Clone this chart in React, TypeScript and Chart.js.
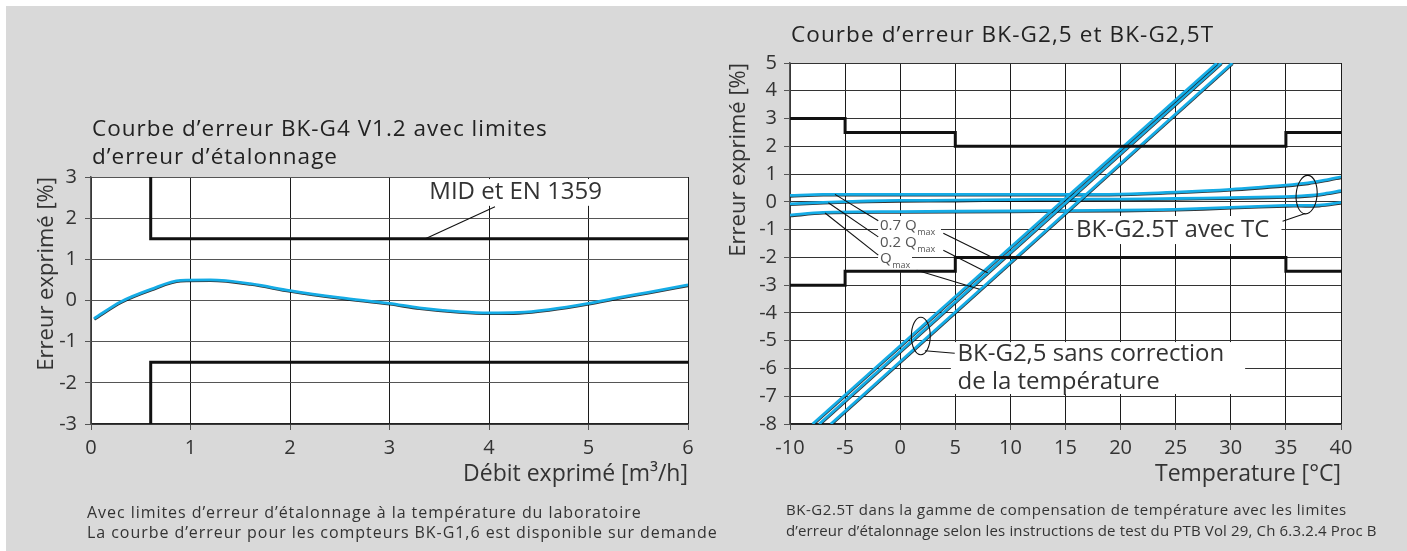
import React, { useEffect, useRef } from "react";
import { Chart, registerables } from "chart.js";

Chart.register(...registerables);

const FONT = "'Open Sans', 'DejaVu Sans', sans-serif";
const CYAN = "#15ace6";
const INK = "#111111";
const TEXT = "#333333";

// ---------- Left chart: BK-G4 V1.2 ----------
const g4FlowTicks = [0, 1, 2, 3, 4, 5, 6];
const g4ErrorTicks = [-3, -2, -1, 0, 1, 2, 3];
const g4Flow = [0.03, 0.3, 0.6, 0.9, 1.2, 1.6, 2.0, 2.5, 3.0, 3.3, 3.7, 4.0, 4.3, 4.6, 5.0, 5.3, 5.6, 6.0];
const g4Error = [-0.44, -0.03, 0.27, 0.49, 0.5, 0.41, 0.24, 0.07, -0.07, -0.18, -0.27, -0.3, -0.29, -0.22, -0.07, 0.07, 0.2, 0.38];
const g4LimitFlow = [0.6, 0.6, 6];
const g4UpperLimit = [3, 1.5, 1.5];
const g4LowerLimit = [-3, -1.5, -1.5];

// ---------- Right chart: BK-G2,5 / BK-G2,5T ----------
const tempTicks = [-10, -5, 0, 5, 10, 15, 20, 25, 30, 35, 40];
const tempErrorTicks = [-8, -7, -6, -5, -4, -3, -2, -1, 0, 1, 2, 3, 4, 5];
const limitTemp = [-10, -5, 5, 35, 40];
const upperLimit = [3, 2.5, 2, 2.5, 2.5];
const lowerLimit = [-3, -2.5, -2, -2.5, -2.5];
const uncorrError = [-8, 5];
const uncorrTemp07 = [-7.95, 28.74];
const uncorrTemp02 = [-7.35, 29.14];
const uncorrTempQmax = [-6.3, 30.14];
const tcTemp07 = [-10, -7, -5, 0, 5, 10, 15, 20, 25, 30, 35, 37, 38.5, 40];
const tcError07 = [0.23, 0.27, 0.27, 0.27, 0.27, 0.27, 0.27, 0.28, 0.35, 0.45, 0.6, 0.68, 0.78, 0.9];
const tcTemp02 = [-10, -7, -3, 0, 5, 10, 15, 20, 25, 30, 35, 37, 38.5, 40];
const tcError02 = [-0.07, -0.02, 0.03, 0.05, 0.06, 0.08, 0.09, 0.1, 0.12, 0.15, 0.19, 0.23, 0.3, 0.4];
const tcTempQmax = [-10, -7, 0, 10, 20, 25, 30, 35, 38, 40];
const tcErrorQmax = [-0.48, -0.38, -0.35, -0.33, -0.3, -0.27, -0.2, -0.13, -0.12, -0.02];

const pts = (xs: number[], ys: number[]) => xs.map((x, i) => ({ x, y: ys[i] }));

// ---------- annotations (data units) ----------
const leftNotes = {
  boxes: [{ x0: 3.35, x1: 5.23, y0: 2.95, y1: 2.3 }],
  texts: [{ x: 3.4, y: 2.46, text: "MID et EN 1359", size: 24 }],
  lines: [{ x0: 3.36, y0: 1.5, x1: 4.06, y1: 2.28 }],
  ellipses: [] as any[],
};

const rightNotes = {
  boxes: [
    { x0: -2.01, x1: 3.7, y0: -0.51, y1: -1.3 },
    { x0: -2.01, x1: 3.7, y0: -1.12, y1: -1.88 },
    { x0: -2.01, x1: 1.07, y0: -1.74, y1: -2.53 },
    { x0: 15.7, x1: 34.6, y0: -0.51, y1: -1.52 },
    { x0: 4.6, x1: 31.3, y0: -5.05, y1: -6.92 },
  ],
  texts: [
    { x: -1.83, y: -1.016, text: "0.7 Q", sub: "max", size: 15, color: "#555" },
    { x: -1.83, y: -1.62, text: "0.2 Q", sub: "max", size: 15, color: "#555" },
    { x: -1.83, y: -2.21, text: "Q", sub: "max", size: 15, color: "#555" },
    { x: 15.95, y: -1.257, text: "BK-G2.5T avec TC", size: 24 },
    { x: 5.2, y: -5.74, text: "BK-G2,5 sans correction", size: 24 },
    { x: 5.2, y: -6.74, text: "de la température", size: 24 },
  ],
  lines: [
    { x0: -5.92, y0: 0.27, x1: -1.99, y1: -0.68 },
    { x0: -6.52, y0: -0.03, x1: -1.99, y1: -1.26 },
    { x0: -6.82, y0: -0.4, x1: -1.99, y1: -1.92 },
    { x0: 3.91, y0: -1.13, x1: 8.7, y1: -2.07 },
    { x0: 3.91, y0: -1.74, x1: 7.94, y1: -2.55 },
    { x0: 1.5, y0: -2.46, x1: 7.2, y1: -3.15 },
    { x0: 34.7, y0: -0.7, x1: 36.75, y1: -0.42 },
    { x0: 2.24, y0: -5.36, x1: 4.95, y1: -5.45 },
  ],
  ellipses: [
    { x: 36.88, y: 0.26, rx: 0.95, ry: 0.695, rot: 0.08 },
    { x: 1.87, y: -4.83, rx: 0.857, ry: 0.675, rot: 0 },
  ],
};

const plotBg = {
  id: "plotBg",
  beforeDraw(chart: any) {
    const { ctx, chartArea: a } = chart;
    ctx.save();
    ctx.fillStyle = "#ffffff";
    ctx.fillRect(a.left, a.top, a.right - a.left, a.bottom - a.top);
    ctx.restore();
  },
};

const outline = {
  id: "outline",
  beforeDatasetDraw(chart: any, args: any) {
    if (chart.data.datasets[args.index].outline) {
      const c = chart.ctx;
      c.save();
      c.shadowColor = "rgba(0,0,0,0.8)";
      c.shadowOffsetX = 0.3;
      c.shadowOffsetY = 0.8;
      c.shadowBlur = 0;
    }
  },
  afterDatasetDraw(chart: any, args: any) {
    if (chart.data.datasets[args.index].outline) chart.ctx.restore();
  },
};

function makeNotes(notes: any) {
  return {
    id: "notes",
    beforeDatasetsDraw(chart: any) {
      const { ctx } = chart;
      const X = (v: number) => chart.scales.x.getPixelForValue(v);
      const Y = (v: number) => chart.scales.y.getPixelForValue(v);
      ctx.save();
      ctx.fillStyle = "#ffffff";
      notes.boxes.forEach((b: any) => {
        const x0 = X(b.x0), x1 = X(b.x1), y0 = Y(b.y0), y1 = Y(b.y1);
        ctx.fillRect(Math.min(x0, x1), Math.min(y0, y1), Math.abs(x1 - x0), Math.abs(y1 - y0));
      });
      ctx.textBaseline = "alphabetic";
      ctx.textAlign = "left";
      notes.texts.forEach((t: any) => {
        ctx.fillStyle = t.color || TEXT;
        ctx.font = `${t.size}px ${FONT}`;
        const px = X(t.x), py = Y(t.y);
        ctx.fillText(t.text, px, py);
        if (t.sub) {
          const w = ctx.measureText(t.text).width;
          ctx.font = `${Math.round(t.size * 0.63)}px ${FONT}`;
          ctx.fillText(t.sub, px + w + 0.5, py + 5);
        }
      });
      ctx.restore();
    },
    afterDatasetsDraw(chart: any) {
      const { ctx } = chart;
      const X = (v: number) => chart.scales.x.getPixelForValue(v);
      const Y = (v: number) => chart.scales.y.getPixelForValue(v);
      ctx.save();
      ctx.strokeStyle = INK;
      ctx.lineWidth = 1.1;
      notes.lines.forEach((l: any) => {
        ctx.beginPath();
        ctx.moveTo(X(l.x0), Y(l.y0));
        ctx.lineTo(X(l.x1), Y(l.y1));
        ctx.stroke();
      });
      notes.ellipses.forEach((e: any) => {
        const cx = X(e.x), cy = Y(e.y);
        const rx = Math.abs(X(e.x + e.rx) - cx), ry = Math.abs(Y(e.y + e.ry) - cy);
        ctx.beginPath();
        ctx.ellipse(cx, cy, rx, ry, e.rot, 0, Math.PI * 2);
        ctx.stroke();
      });
      ctx.restore();
    },
  };
}

function buildOptions(p: any) {
  return {
    responsive: false,
    maintainAspectRatio: false,
    animation: false,
    events: [],
    layout: { padding: { left: 0, right: p.padRight, top: p.padTop, bottom: 0 } },
    plugins: { legend: { display: false }, tooltip: { enabled: false }, title: { display: false } },
    elements: { point: { radius: 0, hoverRadius: 0 } },
    scales: {
      x: {
        type: "linear",
        min: p.xTicks[0],
        max: p.xTicks[p.xTicks.length - 1],
        afterBuildTicks: (s: any) => {
          s.ticks = p.xTicks.map((v: number) => ({ value: v }));
        },
        afterFit: (s: any) => {
          s.height = 127;
        },
        grid: { color: "#1c1c1c", lineWidth: 1, tickLength: 6, tickColor: "#555" },
        border: { color: "#222", width: 1.5 },
        ticks: {
          font: { family: FONT, size: 20 },
          color: TEXT,
          padding: 6.5,
          autoSkip: false,
          maxRotation: 0,
          callback: (v: any) => String(v),
        },
        title: {
          display: true,
          text: p.xTitle,
          align: "end",
          color: TEXT,
          font: { family: FONT, size: 23 },
          padding: { top: 0, bottom: 63.2 },
        },
      },
      y: {
        type: "linear",
        min: p.yTicks[0],
        max: p.yTicks[p.yTicks.length - 1],
        afterBuildTicks: (s: any) => {
          s.ticks = p.yTicks.map((v: number) => ({ value: v }));
        },
        afterFit: (s: any) => {
          s.width = p.yWidth;
        },
        grid: { color: p.yGrid, lineWidth: 1, tickLength: 6, tickColor: "#555" },
        border: { color: "#555", width: 1.5 },
        ticks: {
          font: { family: FONT, size: 20 },
          color: TEXT,
          padding: p.yTickPad,
          autoSkip: false,
          callback: (v: any) => String(v),
        },
        title: {
          display: true,
          text: "Erreur exprimé [%]",
          align: "end",
          color: TEXT,
          font: { family: FONT, size: 22 },
          padding: { top: p.yTitlePad, bottom: 0 },
        },
      },
    },
  };
}

const limitStyle = { borderColor: INK, borderWidth: 3, pointRadius: 0, fill: false };
const curveStyle = { borderColor: CYAN, borderWidth: 2.8, pointRadius: 0, fill: false, outline: true };

export default function App() {
  const leftRef = useRef<HTMLCanvasElement | null>(null);
  const rightRef = useRef<HTMLCanvasElement | null>(null);

  useEffect(() => {
    const left = new Chart(leftRef.current as HTMLCanvasElement, {
      type: "line",
      data: {
        datasets: [
          { ...limitStyle, data: pts(g4LimitFlow, g4UpperLimit) },
          { ...limitStyle, data: pts(g4LimitFlow, g4LowerLimit) },
          { ...curveStyle, cubicInterpolationMode: "monotone", data: pts(g4Flow, g4Error) },
        ] as any,
      },
      options: buildOptions({
        padRight: 32,
        padTop: 177,
        yWidth: 91,
        yTitlePad: 33.3,
        yTickPad: 8,
        yGrid: "#555",
        xTicks: g4FlowTicks,
        yTicks: g4ErrorTicks,
        xTitle: "Débit exprimé [m³/h]",
      }) as any,
      plugins: [plotBg, outline, makeNotes(leftNotes)],
    });

    const right = new Chart(rightRef.current as HTMLCanvasElement, {
      type: "line",
      data: {
        datasets: [
          { ...limitStyle, stepped: true, data: pts(limitTemp, upperLimit) },
          { ...limitStyle, stepped: true, data: pts(limitTemp, lowerLimit) },
          { ...curveStyle, data: pts(uncorrTemp07, uncorrError) },
          { ...curveStyle, data: pts(uncorrTemp02, uncorrError) },
          { ...curveStyle, data: pts(uncorrTempQmax, uncorrError) },
          { ...curveStyle, tension: 0.3, data: pts(tcTemp07, tcError07) },
          { ...curveStyle, tension: 0.3, data: pts(tcTemp02, tcError02) },
          { ...curveStyle, tension: 0.3, data: pts(tcTempQmax, tcErrorQmax) },
        ] as any,
      },
      options: buildOptions({
        padRight: 66,
        padTop: 63,
        yWidth: 70,
        yTitlePad: 5.3,
        yTickPad: 7,
        yGrid: "#333",
        xTicks: tempTicks,
        yTicks: tempErrorTicks,
        xTitle: "Temperature [°C]",
      }) as any,
      plugins: [plotBg, outline, makeNotes(rightNotes)],
    });

    return () => {
      left.destroy();
      right.destroy();
    };
  }, []);

  const abs = (s: any) => ({ position: "absolute" as const, whiteSpace: "nowrap" as const, ...s });

  return (
    <div style={abs({ left: 0, top: 0, width: 1407, height: 551, background: "#ffffff", overflow: "hidden", fontFamily: FONT })}>
      <div style={abs({ left: 6, top: 6, right: 0, bottom: 0, background: "#d9d9d9" })} />
      <canvas ref={leftRef} width={720} height={551} style={{ position: "absolute", left: 0, top: 0 }} />
      <canvas ref={rightRef} width={687} height={551} style={{ position: "absolute", left: 720, top: 0 }} />
      <div style={abs({ left: 92, top: 114, fontSize: 22.5, lineHeight: "28px", letterSpacing: "1px", color: "#222" })}>
        Courbe d’erreur BK-G4 V1.2 avec limites
        <br />
        d’erreur d’étalonnage
      </div>
      <div style={abs({ left: 791, top: 20, fontSize: 22.5, lineHeight: "28px", letterSpacing: "1.1px", color: "#222" })}>
        Courbe d’erreur BK-G2,5 et BK-G2,5T
      </div>
      <div style={abs({ left: 87, top: 501.7, fontSize: 16, lineHeight: "20px", letterSpacing: "0.95px", color: TEXT })}>
        Avec limites d’erreur d’étalonnage à la température du laboratoire
        <br />
        La courbe d’erreur pour les compteurs BK-G1,6 est disponible sur demande
      </div>
      <div style={abs({ left: 786, top: 499.3, fontSize: 15, lineHeight: "21px", color: TEXT })}>
        <span style={{ letterSpacing: "0.55px" }}>
          BK-G2.5T dans la gamme de compensation de température avec les limites
        </span>
        <br />
        <span style={{ letterSpacing: "0.15px" }}>
          d’erreur d’étalonnage selon les instructions de test du PTB Vol 29, Ch 6.3.2.4 Proc B
        </span>
      </div>
    </div>
  );
}
